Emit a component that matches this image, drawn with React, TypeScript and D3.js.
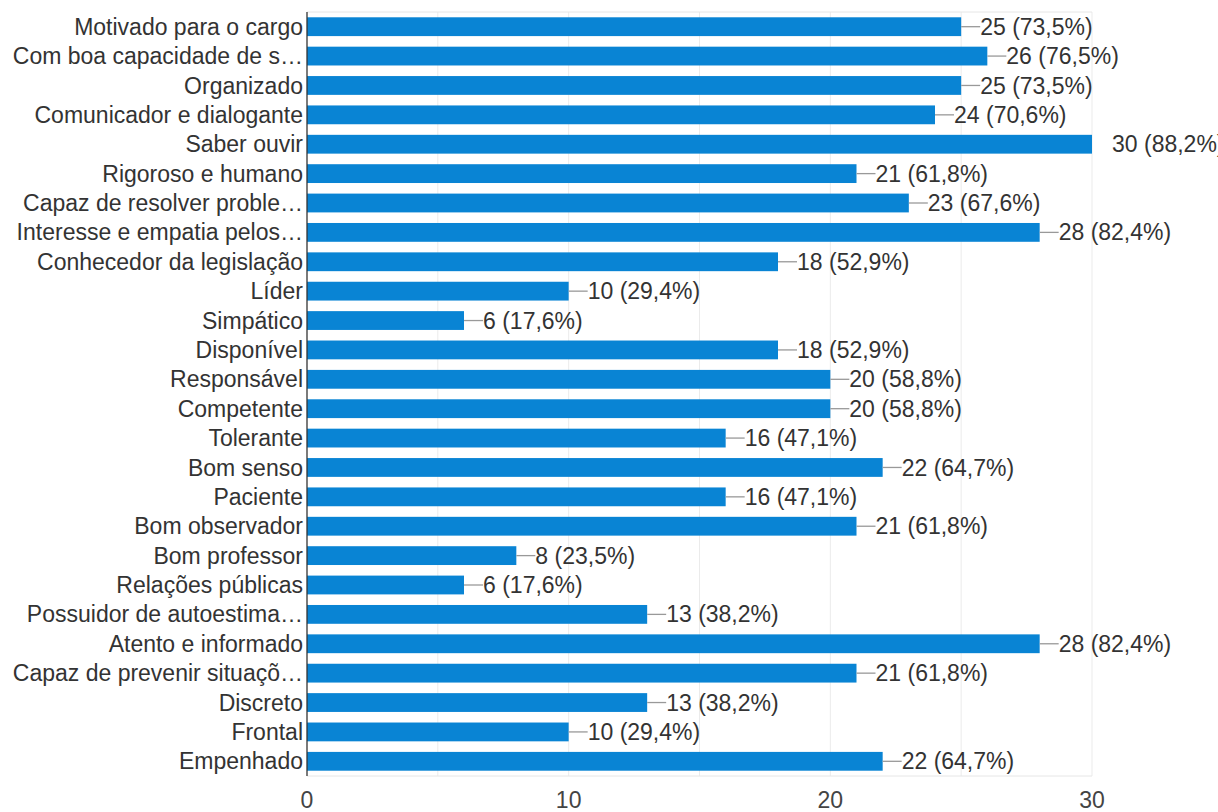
import React from "react";
import * as d3 from "d3";

const categories = [
    "Motivado para o cargo",
    "Com boa capacidade de s…",
    "Organizado",
    "Comunicador e dialogante",
    "Saber ouvir",
    "Rigoroso e humano",
    "Capaz de resolver proble…",
    "Interesse e empatia pelos…",
    "Conhecedor da legislação",
    "Líder",
    "Simpático",
    "Disponível",
    "Responsável",
    "Competente",
    "Tolerante",
    "Bom senso",
    "Paciente",
    "Bom observador",
    "Bom professor",
    "Relações públicas",
    "Possuidor de autoestima…",
    "Atento e informado",
    "Capaz de prevenir situaçõ…",
    "Discreto",
    "Frontal",
    "Empenhado",
]

const counts = [25, 26, 25, 24, 30, 21, 23, 28, 18, 10, 6, 18, 20, 20, 16, 22, 16, 21, 8, 6, 13, 28, 21, 13, 10, 22]
const percents = ["73,5", "76,5", "73,5", "70,6", "88,2", "61,8", "67,6", "82,4", "52,9", "29,4", "17,6", "52,9", "58,8", "58,8", "47,1", "64,7", "47,1", "61,8", "23,5", "17,6", "38,2", "82,4", "61,8", "38,2", "29,4", "64,7"]

const xTicks = [0, 10, 20, 30]
const gridTicks = [5, 10, 15, 20, 25, 30]

const width = 1218
const height = 812
const margin = ({top: 12, right: 126, bottom: 36, left: 307})
const font = "'Liberation Sans', Arial, sans-serif"
const fs = 23

export default function App() {

    const x = d3.scaleLinear()
        .domain([0, 30])
        .range([margin.left, width - margin.right])

    const y = d3.scaleBand()
        .domain(categories)
        .range([margin.top, height - margin.bottom])
        .paddingInner(0.36)
        .paddingOuter(0.18)

    const plotBottom = height - margin.bottom

    return (
        <svg width={width} height={height} style={{position: "absolute", left: 0, top: 0, background: "#fff"}}
             fontFamily={font}>
            {/* grid */}
            {gridTicks.map(t => (
                <line key={"g" + t} x1={x(t)} x2={x(t)} y1={margin.top} y2={plotBottom}
                      stroke="#ebebeb" strokeWidth={1}/>
            ))}
            <line x1={margin.left} x2={x(30)} y1={margin.top} y2={margin.top} stroke="#e6e6e6"/>
            <line x1={margin.left} x2={x(30)} y1={plotBottom} y2={plotBottom} stroke="#e6e6e6"/>

            {categories.map((c, i) => {
                const v = counts[i]
                const yc = y(c)! + y.bandwidth() / 2
                const end = x(v)
                const atEdge = v >= x.domain()[1]
                return (
                    <g key={c}>
                        <rect x={x(0)} y={y(c)} width={end - x(0)} height={y.bandwidth()} fill="#0984d4"/>
                        <text x={margin.left - 4} y={yc} dy="0.35em" textAnchor="end" fontSize={fs}
                              fill="#333">{c}</text>
                        {!atEdge && <line x1={end} x2={end + 19} y1={yc} y2={yc} stroke="#999" strokeWidth={1.3}/>}
                        <text x={atEdge ? end + 20 : end + 19} y={yc} dy="0.35em" fontSize={fs}
                              fill="#333">{v + " (" + percents[i] + "%)"}</text>
                    </g>
                )
            })}

            <line x1={margin.left} x2={margin.left} y1={margin.top} y2={plotBottom} stroke="#333" strokeWidth={1.3}/>

            {xTicks.map(t => (
                <text key={"t" + t} x={x(t)} y={plotBottom + 32} textAnchor="middle" fontSize={fs}
                      fill="#444">{t}</text>
            ))}
        </svg>
    );
}
